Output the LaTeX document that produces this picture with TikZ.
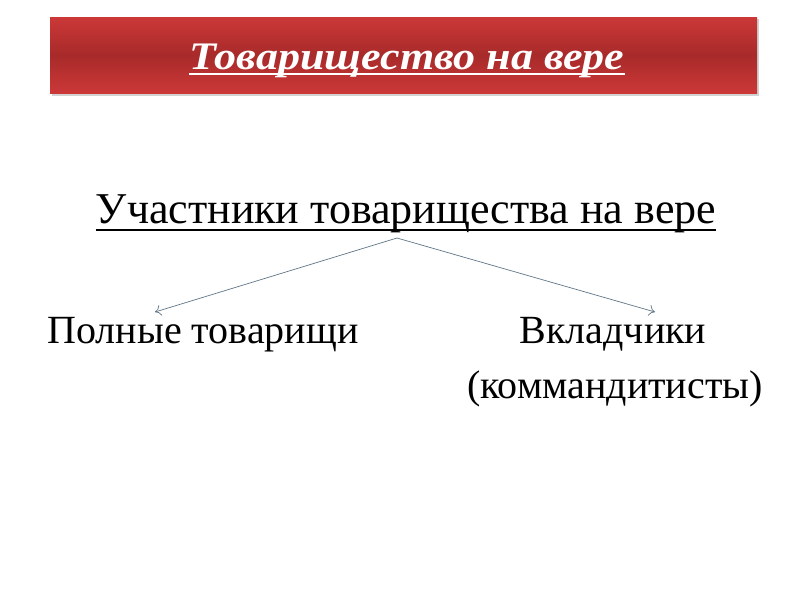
\documentclass[tikz,border=0pt]{standalone}
\usepackage{fontspec}
\setmainfont{Liberation Serif}
\usetikzlibrary{arrows.meta}

\definecolor{bannerred}{HTML}{CC3838}
\definecolor{bannerdark}{HTML}{A82A2A}
\definecolor{arrowgray}{HTML}{5F7585}

\tikzset{
  label text/.style={font=\fontsize{40}{44}\selectfont, inner sep=0pt, anchor=base},
  branch/.style={draw=arrowgray, line width=0.7pt, -{To[length=6pt,width=11pt]}}
}

\begin{document}
\begin{tikzpicture}[x=1pt, y=-1pt]
        \useasboundingbox (0, 0) rectangle (800, 600);

        % banner
        \fill[gray!35] (52, 19) rectangle (759, 96);
        \shade[top color=bannerred, bottom color=bannerred, middle color=bannerdark]
          (50, 17) rectangle (757, 93);
        \node[text=white, inner sep=0pt, anchor=base, xscale=1.13,
              font=\fontsize{39}{42}\selectfont\bfseries\itshape]
          (title) at (407, 69) {Товарищество на вере\ };
        \draw[white, line width=2pt] ([yshift=-5pt]title.base west) -- ([yshift=-5pt]title.base east);

        \node[label text, font=\fontsize{44}{48}\selectfont] (participants) at (406, 223)
          {Участники товарищества на вере};
        \draw[line width=2.5pt] ([yshift=-7pt]participants.base west) -- ([yshift=-7pt]participants.base east);

        \node[label text] (full) at (203, 343) {Полные товарищи};
        \node[label text] (investors) at (613, 343) {Вкладчики};
        \node[label text] (limited) at (615, 398) {(коммандитисты)};

        \coordinate (fork) at (397, 238);
        \coordinate (fullend) at (155, 312);
        \coordinate (investend) at (655, 312);

        \draw[branch] (fork) -- (fullend);
        \draw[branch] (fork) -- (investend);
      \end{tikzpicture}
\end{document}
